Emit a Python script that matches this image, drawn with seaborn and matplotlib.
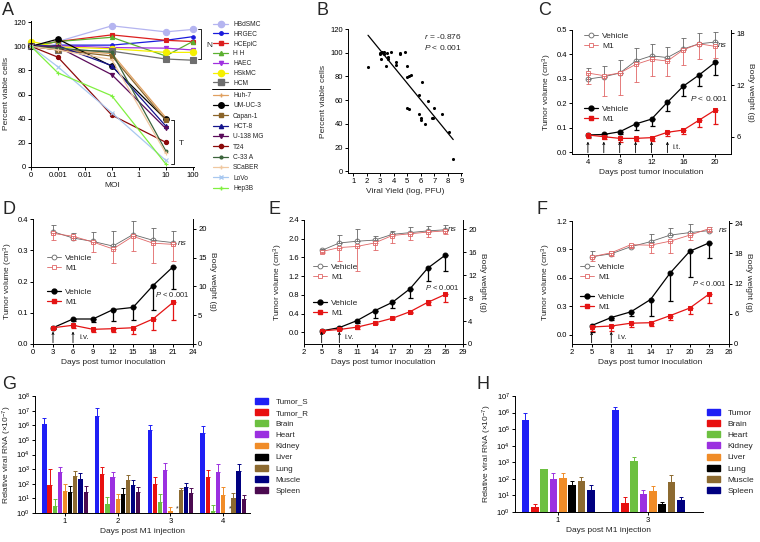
import numpy as np
import pandas as pd
import seaborn as sns
import matplotlib.pyplot as plt
from matplotlib.lines import Line2D
from matplotlib.patches import Patch
from matplotlib.ticker import NullLocator, LogFormatterSciNotation

W, H = 760, 542

# ---------------- A: viability vs MOI ----------------
moi_labels = ["0", "0.001", "0.01", "0.1", "1", "10", "100"]
normal_moi = ["0", "0.001", "0.1", "10", "100"]
tumor_moi = ["0", "0.001", "0.1", "10"]

normal_lines = ["HBdSMC", "HRGEC", "HCEpiC", "H H", "HAEC", "HSkMC", "HCM"]
normal_viab = [
    [100, 104, 117, 112, 114],
    [100, 101, 101, 105, 108],
    [100, 104, 109.5, 105, 104],
    [100, 104, 107.5, 92, 104],
    [100, 100.5, 99, 98.5, 97],
    [104, 99.5, 98, 95, 95],
    [100, 97, 96, 89.5, 88.5],
]
tumor_lines = ["Huh-7", "UM-UC-3", "Capan-1", "HCT-8", "U-138 MG", "T24",
               "C-33 A", "SCaBER", "LoVo", "Hep3B"]
tumor_viab = [
    [100, 97, 94, 41],
    [100, 106, 83.5, 39.5],
    [100, 97, 92, 39],
    [100, 100.5, 84, 34],
    [100, 99.5, 76.5, 32],
    [100, 91, 43, 20.5],
    [100, 98.5, 95, 13.5],
    [100, 97, 89, 11.5],
    [100, 83, 45, 5.5],
    [100, 78, 59, 2.6],
]

# ---------------- B: viability vs viral yield ----------------
b_yield = [2.1, 2.95, 3.0, 3.1, 3.2, 3.3, 3.05, 3.3, 3.5, 3.4, 3.55, 3.6, 3.8,
           4.2, 4.2, 4.5, 4.5, 4.8, 5.0, 5.0, 5.1, 5.3, 4.95, 5.15, 6.1, 5.9,
           5.9, 6.0, 6.0, 6.3, 6.5, 6.95, 6.8, 6.9, 7.6, 8.1, 8.4]
b_viab = [88, 99.6, 98.9, 100.4, 99.6, 100.4, 95, 99, 100, 88.4, 96.6, 94.6,
          100.4, 92.2, 90, 99.6, 98.9, 100.4, 88.4, 79.4, 80, 80.8, 53.7, 52.5,
          75.7, 64.7, 48.6, 44.9, 43, 40, 59, 53.7, 45, 44.6, 48.6, 33, 9.9]

# ---------------- C-F: tumor growth / body weight ----------------
c_days = [4, 6, 8, 10, 12, 14, 16, 18, 20]
c_tv_veh = [0.070, 0.072, 0.083, 0.115, 0.135, 0.204, 0.270, 0.316, 0.367]
c_tv_veh_err = [0.010, 0.008, 0.010, 0.026, 0.027, 0.036, 0.040, 0.046, 0.051]
c_tv_m1 = [0.070, 0.063, 0.056, 0.056, 0.059, 0.081, 0.090, 0.131, 0.172]
c_tv_m1_err = [0.014, 0.010, 0.015, 0.012, 0.012, 0.014, 0.018, 0.027, 0.058]
c_bw_veh = [12.7, 12.97, 13.4, 14.8, 15.4, 15.2, 16.2, 16.8, 17.0]
c_bw_veh_err = [1.3, 1.3, 1.5, 1.55, 1.4, 1.2, 1.3, 1.3, 1.15]
c_bw_m1 = [13.4, 13.1, 13.4, 14.4, 15.0, 14.8, 16.1, 16.8, 16.5]
c_bw_m1_err = [1.3, 2.4, 2.6, 2.05, 1.9, 1.7, 1.75, 1.8, 1.3]
c_dose_days = [4, 6, 8, 10, 12, 14]

d_days = [3, 6, 9, 12, 15, 18, 21]
d_tv_veh = [0.052, 0.080, 0.080, 0.110, 0.117, 0.187, 0.247]
d_tv_veh_err = [0.005, 0.006, 0.008, 0.035, 0.040, 0.077, 0.070]
d_tv_m1 = [0.052, 0.060, 0.047, 0.049, 0.052, 0.080, 0.133]
d_tv_m1_err = [0.004, 0.010, 0.010, 0.012, 0.020, 0.035, 0.057]
d_bw_veh = [19.5, 18.4, 17.8, 17.0, 19.0, 18.0, 17.6]
d_bw_veh_err = [1.2, 0.8, 1.6, 2.6, 2.3, 2.1, 2.1]
d_bw_m1 = [19.2, 18.7, 17.7, 16.5, 18.7, 17.5, 17.3]
d_bw_m1_err = [1.2, 0.6, 1.7, 2.4, 2.6, 3.5, 2.9]
d_dose_days = [3, 6]

e_days = [5, 8, 11, 14, 17, 20, 23, 26]
e_tv_veh = [0.03, 0.10, 0.25, 0.46, 0.64, 0.93, 1.37, 1.65]
e_tv_veh_err = [0.01, 0.02, 0.06, 0.15, 0.12, 0.19, 0.27, 0.33]
e_tv_m1 = [0.03, 0.06, 0.11, 0.20, 0.30, 0.44, 0.64, 0.81]
e_tv_m1_err = [0.01, 0.01, 0.05, 0.02, 0.02, 0.03, 0.05, 0.17]
e_bw_veh = [16.3, 17.6, 17.9, 18.1, 19.1, 19.4, 19.7, 19.9]
e_bw_veh_err = [0.3, 1.35, 2.2, 0.7, 0.6, 0.9, 0.9, 0.9]
e_bw_m1 = [16.1, 16.8, 17.0, 17.6, 18.9, 19.2, 19.5, 19.7]
e_bw_m1_err = [0.3, 2.4, 4.2, 1.3, 1.3, 1.0, 0.9, 0.6]
e_dose_days = [5, 8]

f_days = [5, 8, 11, 14, 17, 20, 23]
f_tv_veh = [0.095, 0.18, 0.24, 0.37, 0.65, 0.88, 0.97]
f_tv_veh_err = [0.07, 0.03, 0.04, 0.17, 0.30, 0.27, 0.16]
f_tv_m1 = [0.08, 0.09, 0.12, 0.125, 0.20, 0.28, 0.43]
f_tv_m1_err = [0.04, 0.05, 0.04, 0.04, 0.05, 0.06, 0.10]
f_bw_veh = [17.3, 17.9, 19.3, 20.3, 21.6, 22.1, 22.5]
f_bw_veh_err = [1.1, 0.6, 0.6, 1.5, 1.5, 1.7, 0.8]
f_bw_m1 = [17.3, 18.1, 19.7, 19.6, 20.4, 21.6, 22.9]
f_bw_m1_err = [0.8, 0.6, 0.6, 1.5, 2.3, 1.0, 0.6]
f_dose_days = [5, 8]

# ---------------- G / H: viral RNA in tissues ----------------
g_days = ["1", "2", "3", "4"]
g_tissues = ["Tumor_S", "Tumor_R", "Brain", "Heart", "Kidney", "Liver",
             "Lung", "Muscle", "Spleen"]
g_rna = [
    [1.3e6, 4.4e6, 4.7e5, 2.8e5],
    [76, 470, 100, 280],
    [2.8, 4.1, 6.0, 1.4],
    [590, 310, 850, 680],
    [30, 9.4, 1.3, 18],
    [27, 20, np.nan, np.nan],
    [350, 185, 35, 10.5],
    [216, 80, 59, 800],
    [27, 28, 23, 9],
]
g_rna_top = [
    [3.2e6, 1.4e7, 1.1e6, 8.7e5],
    [1000, 1350, 295, 890],
    [9.5, 12, 20, 3.7],
    [1350, 680, 2500, 2100],
    [100, 20, 2.6, 60],
    [70, 52, np.nan, np.nan],
    [720, 400, 48, 25],
    [520, 190, 110, 2300],
    [72, 60, 50, 17],
]

h_days = ["1", "3"]
h_tissues = ["Tumor", "Brain", "Heart", "Kidney", "Liver", "Lung", "Muscle", "Spleen"]
h_rna = [
    [3.5e5, 1.5e6],
    [2.0, 3.6],
    [380, 1260],
    [95, 12.6],
    [120, 19],
    [40, 3.0],
    [72, 69],
    [21, 5.2],
]
h_rna_top = [
    [9.5e5, 2.2e6],
    [3.0, 8.0],
    [420, 2200],
    [220, 20],
    [240, 35],
    [70, 4.0],
    [130, 175],
    [42, 8.0],
]

# ---------------- styles ----------------
normal_colors = ["#b4b4f0", "#1a1adc", "#dc1e1e", "#5cb030", "#a030e0", "#f5f000", "#6e6e6e"]
normal_markers = ["o", "o", "s", "^", "v", "o", "s"]
normal_ms = [4.5, 2.5, 3, 3, 3, 4.5, 4]
tumor_colors = ["#e0a060", "#000000", "#8b6428", "#14148c", "#5a0a5a", "#8c0a0a",
                "#3c643c", "#f0c8a0", "#a8c8f0", "#80f040"]
tumor_markers = ["+", "o", "s", "^", "v", "o", "o", "+", "x", "+"]
tumor_ms = [3.5, 4, 3.5, 3, 3, 3, 2, 3, 3, 3.5]

g_colors = ["#1f1ff5", "#e81010", "#6cc040", "#9b30e0", "#f08c28", "#000000",
            "#8c6a30", "#000080", "#4b0a50"]
h_colors = ["#1f1ff5", "#e81010", "#6cc040", "#9b30e0", "#f08c28", "#000000",
            "#8c6a30", "#000080"]

VEH_BW = "#666666"
M1_BW = "#e06666"
M1_TV = "#e41414"

sns.set_style("ticks")
plt.rcParams['font.family'] = ['Liberation Sans', 'DejaVu Sans']
plt.rcParams.update({
    'font.size': 6,
    'axes.labelsize': 6,
    'xtick.labelsize': 5.5,
    'ytick.labelsize': 5.5,
    'axes.linewidth': 0.7,
    'xtick.major.width': 0.7,
    'ytick.major.width': 0.7,
    'xtick.major.size': 2.2,
    'ytick.major.size': 2.2,
    'xtick.major.pad': 1.5,
    'ytick.major.pad': 1.5,
    'axes.labelpad': 2,
    'mathtext.fontset': 'custom',
    'mathtext.rm': 'Liberation Sans',
    'mathtext.it': 'Liberation Sans:italic',
    'mathtext.default': 'regular',
    'axes.edgecolor': 'black',
    'xtick.color': 'black',
    'ytick.color': 'black',
})

fig = plt.figure(figsize=(W / 100, H / 100), dpi=100)


def fx(px):
    return px / W


def fy(py):
    return 1 - py / H


def add_ax(l, t, r, b):
    return fig.add_axes([fx(l), fy(b), (r - l) / W, (b - t) / H])


def letter(px, py, s):
    fig.text(fx(px), fy(py), s, fontsize=13, va='top', ha='left')


# ================= A =================
ax_a = add_ax(31, 21, 194, 167)
for vals, c, m, s in zip(normal_viab, normal_colors, normal_markers, normal_ms):
    sns.lineplot(x=[moi_labels.index(v) for v in normal_moi], y=vals, color=c,
                 marker=m, markersize=s, mec=c, mfc=c, mew=0.8, lw=0.9,
                 ax=ax_a, clip_on=False)
for vals, c, m, s in zip(tumor_viab, tumor_colors, tumor_markers, tumor_ms):
    sns.lineplot(x=[moi_labels.index(v) for v in tumor_moi], y=vals, color=c,
                 marker=m, markersize=s, mec=c, mfc=c, mew=0.8, lw=0.9,
                 ax=ax_a, clip_on=False)
ax_a.set_xlim(0, 6.05)
ax_a.set_ylim(0, 121)
ax_a.set_xticks(range(len(moi_labels)))
ax_a.set_xticklabels(moi_labels)
ax_a.set_yticks(range(0, 121, 20))
ax_a.set_xlabel("MOI")
ax_a.set_ylabel("Percent viable cells")
sns.despine(ax=ax_a)
# brackets
ax_a.plot([6.2, 6.32, 6.32, 6.2], [114.7, 114.7, 89.6, 89.6], color='k', lw=0.6, clip_on=False)
ax_a.text(6.5, 101, "N", fontsize=6, va='center')
ax_a.plot([5.19, 5.31, 5.31, 5.19], [38.6, 38.6, 2.5, 2.5], color='k', lw=0.6, clip_on=False)
ax_a.text(5.5, 19.7, "T", fontsize=6, va='center')

n_handles = [Line2D([], [], color=c, marker=m, markersize=s, mec=c, mfc=c, lw=0.9)
             for c, m, s in zip(normal_colors, normal_markers, normal_ms)]
t_handles = [Line2D([], [], color=c, marker=m, markersize=s, mec=c, mfc=c, lw=0.9)
             for c, m, s in zip(tumor_colors, tumor_markers, tumor_ms)]
leg_kw = dict(loc='upper left', frameon=False, fontsize=4.8, handlelength=2.3,
              handletextpad=0.7, borderpad=0, borderaxespad=0)
fig.legend(n_handles, normal_lines, bbox_to_anchor=(fx(213), fy(21)),
           labelspacing=0.42, **leg_kw)
fig.legend(t_handles, tumor_lines, bbox_to_anchor=(fx(213), fy(92)),
           labelspacing=0.5, **leg_kw)
fig.add_artist(Line2D([fx(212), fx(270)], [fy(88.5), fy(88.5)], color='k', lw=0.7,
                      transform=fig.transFigure))

# ================= B =================
ax_b = add_ax(348, 29, 462, 173)
sns.scatterplot(x=b_yield, y=b_viab, color='black', s=5, linewidth=0, ax=ax_b)
sns.regplot(x=np.array(b_yield), y=np.array(b_viab), scatter=False, ci=None, truncate=True,
            line_kws=dict(color='black', lw=0.9), ax=ax_b)
ax_b.set_xlim(0.62, 9.05)
ax_b.set_ylim(-1.5, 120)
ax_b.set_xticks(range(1, 10))
ax_b.set_yticks(range(0, 121, 20))
ax_b.set_xlabel("Viral Yield (log, PFU)")
ax_b.set_ylabel("Percent viable cells")
ax_b.text(9.0, 114, "$\\mathit{r}$ = -0.876", ha='right', va='center', fontsize=6)
ax_b.text(9.0, 104, "$\\mathit{P}$ < 0.001", ha='right', va='center', fontsize=6)
sns.despine(ax=ax_b)


# ================= C-F =================
def growth(ax, days, tv_veh, tv_veh_err, tv_m1, tv_m1_err,
           bw_veh, bw_veh_err, bw_m1, bw_m1_err):
    zeros = np.zeros(len(days))
    sns.lineplot(x=days, y=tv_veh, color='black', marker='o', markersize=3.5,
                 mec='black', mfc='black', lw=0.9, ax=ax)
    ax.errorbar(days, tv_veh, yerr=[tv_veh_err, zeros], fmt='none', ecolor='black',
                elinewidth=0.9, capsize=1.8, capthick=0.9)
    sns.lineplot(x=days, y=tv_m1, color=M1_TV, marker='s', markersize=3.3,
                 mec=M1_TV, mfc=M1_TV, lw=0.9, ax=ax)
    ax.errorbar(days, tv_m1, yerr=[tv_m1_err, zeros], fmt='none', ecolor=M1_TV,
                elinewidth=0.9, capsize=1.8, capthick=0.9)
    ax2 = ax.twinx()
    sns.lineplot(x=days, y=bw_veh, color=VEH_BW, marker='o', markersize=3.5,
                 mec=VEH_BW, mfc='white', mew=0.6, lw=0.6, ax=ax2)
    ax2.errorbar(days, bw_veh, yerr=[zeros, bw_veh_err], fmt='none', ecolor=VEH_BW,
                 elinewidth=0.6, capsize=1.8, capthick=0.6)
    sns.lineplot(x=days, y=bw_m1, color=M1_BW, marker='s', markersize=3.5,
                 mec=M1_BW, mfc='white', mew=0.6, lw=0.6, ax=ax2)
    ax2.errorbar(days, bw_m1, yerr=[bw_m1_err, zeros], fmt='none', ecolor=M1_BW,
                 elinewidth=0.6, capsize=1.8, capthick=0.6)
    ax.spines[['top', 'right']].set_visible(False)
    ax2.spines[['top', 'left', 'bottom']].set_visible(False)
    ax.set_xlabel("Days post tumor inoculation")
    ax.set_ylabel("Tumor volume (cm$^3$)")
    ax2.set_ylabel("Body weight (g)", rotation=270, labelpad=7)
    return ax2


def doses(ax, dose_days, route, dx):
    for d in dose_days:
        ax.annotate("", xy=(d, 0.1), xytext=(d, 0.01),
                    xycoords=('data', 'axes fraction'),
                    arrowprops=dict(arrowstyle="->,head_length=0.25,head_width=0.12",
                                    lw=0.6, color='black', shrinkA=0, shrinkB=0))
    ax.text(dose_days[-1] + dx, 0.055, route, transform=ax.get_xaxis_transform(),
            fontsize=5.8, va='center', ha='left')


def growth_legends(x_handle, y_rows):
    kw = dict(loc='upper left', frameon=False, fontsize=6, handlelength=1.7,
              handletextpad=0.5, labelspacing=0.25, borderpad=0, borderaxespad=0)
    bw_h = [Line2D([], [], color=VEH_BW, marker='o', mfc='white', mec=VEH_BW, ms=3.5, lw=0.6, mew=0.6),
            Line2D([], [], color=M1_BW, marker='s', mfc='white', mec=M1_BW, ms=3.5, lw=0.6, mew=0.6)]
    tv_h = [Line2D([], [], color='black', marker='o', ms=3.5, lw=0.9),
            Line2D([], [], color=M1_TV, marker='s', ms=3.3, lw=0.9)]
    fig.legend(bw_h, ["Vehicle", "M1"], bbox_to_anchor=(fx(x_handle), fy(y_rows[0])), **kw)
    fig.legend(tv_h, ["Vehicle", "M1"], bbox_to_anchor=(fx(x_handle), fy(y_rows[1])), **kw)


# C
ax_c = add_ax(572, 30, 731, 154)
ax_c2 = growth(ax_c, c_days, c_tv_veh, c_tv_veh_err, c_tv_m1, c_tv_m1_err,
               c_bw_veh, c_bw_veh_err, c_bw_m1, c_bw_m1_err)
ax_c.set_xlim(2, 22)
ax_c.set_xticks(range(4, 21, 4))
ax_c.set_ylim(-0.008, 0.5)
ax_c.set_yticks(np.arange(0, 0.51, 0.1))
ax_c.yaxis.set_major_formatter(lambda v, p: f"{v:.1f}")
ax_c2.set_ylim(4, 18.4)
ax_c2.set_yticks([6, 12, 18])
ax_c.text(16.9, 0.22, "$\\mathit{P}$ < 0.001", fontsize=6, va='center')
ax_c2.text(20.3, 16.6, "ns", fontsize=6, style='italic', va='center')
doses(ax_c, c_dose_days, "i.t.", 0.6)
growth_legends(584, (32, 105))

# D
ax_d = add_ax(33, 219, 193, 344)
ax_d2 = growth(ax_d, d_days, d_tv_veh, d_tv_veh_err, d_tv_m1, d_tv_m1_err,
               d_bw_veh, d_bw_veh_err, d_bw_m1, d_bw_m1_err)
ax_d.set_xlim(0, 24)
ax_d.set_xticks(range(0, 25, 3))
ax_d.set_ylim(0, 0.4)
ax_d.set_yticks(np.arange(0, 0.41, 0.1))
ax_d.yaxis.set_major_formatter(lambda v, p: f"{v:.1f}")
ax_d2.set_ylim(0, 21.7)
ax_d2.set_yticks(range(0, 21, 5))
ax_d.text(18.3, 0.157, "$\\mathit{P}$ < 0.001", fontsize=5.5, va='center')
ax_d.text(21.8, 0.323, "ns", fontsize=6, style='italic', va='center')
doses(ax_d, d_dose_days, "i.v.", 0.9)
growth_legends(47, (254, 288))

# E
ax_e = add_ax(304, 220, 463, 344)
ax_e2 = growth(ax_e, e_days, e_tv_veh, e_tv_veh_err, e_tv_m1, e_tv_m1_err,
               e_bw_veh, e_bw_veh_err, e_bw_m1, e_bw_m1_err)
ax_e.set_xlim(2, 29)
ax_e.set_xticks(range(2, 30, 3))
ax_e.set_ylim(-0.25, 2.4)
ax_e.set_yticks(np.arange(0, 2.41, 0.4))
ax_e.yaxis.set_major_formatter(lambda v, p: f"{v:.1f}")
ax_e2.set_ylim(0, 21.6)
ax_e2.set_yticks(range(0, 21, 4))
ax_e.text(22.5, 0.95, "$\\mathit{P}$ < 0.001", fontsize=5.5, va='center')
ax_e.text(26.5, 2.2, "ns", fontsize=6, style='italic', va='center')
doses(ax_e, e_dose_days, "i.v.", 0.9)
growth_legends(313, (263, 299))

# F
ax_f = add_ax(572, 221, 729, 344)
ax_f2 = growth(ax_f, f_days, f_tv_veh, f_tv_veh_err, f_tv_m1, f_tv_m1_err,
               f_bw_veh, f_bw_veh_err, f_bw_m1, f_bw_m1_err)
ax_f.set_xlim(2, 26)
ax_f.set_xticks(range(2, 27, 3))
ax_f.set_ylim(-0.1, 1.2)
ax_f.set_yticks(np.arange(0, 1.21, 0.3))
ax_f.yaxis.set_major_formatter(lambda v, p: f"{v:.1f}")
ax_f2.set_ylim(0, 24.4)
ax_f2.set_yticks(range(0, 25, 6))
ax_f.text(20.4, 0.54, "$\\mathit{P}$ < 0.001", fontsize=5.5, va='center')
ax_f.text(24.4, 1.1, "ns", fontsize=6, style='italic', va='center')
doses(ax_f, f_dose_days, "i.v.", 0.9)
growth_legends(580, (263, 293))


# ================= G / H =================
def rna_bars(ax, days, tissues, rna, rna_top, colors, width):
    df = pd.DataFrame([(d, t, v) for t, vals in zip(tissues, rna) for d, v in zip(days, vals)],
                      columns=["day", "tissue", "rna"]).dropna()
    sns.barplot(data=df, x="day", y="rna", hue="tissue", order=days, hue_order=tissues,
                palette=colors, width=width, gap=0.18, errorbar=None,
                saturation=1, linewidth=0, legend=False, ax=ax)
    ax.set_yscale('log')
    for cont, vals, tops, c in zip(ax.containers, rna, rna_top, colors):
        v = np.array([a for a in vals if not np.isnan(a)])
        t = np.array([b for b in tops if not np.isnan(b)])
        xs = [p.get_x() + p.get_width() / 2 for p in cont]
        ax.errorbar(xs, v, yerr=[np.zeros(len(v)), t - v], fmt='none', ecolor=c,
                    elinewidth=0.7, capsize=1.3, capthick=0.7)
    ax.yaxis.set_major_formatter(LogFormatterSciNotation())
    ax.yaxis.set_minor_locator(NullLocator())
    ax.set_xlabel("Days post M1 injection")
    ax.set_ylabel("Relative viral RNA (\u00d710$^{-7}$)")
    sns.despine(ax=ax)


ax_g = add_ax(35, 396, 250, 513)
rna_bars(ax_g, g_days, g_tissues, g_rna, g_rna_top, g_colors, 0.88)
ax_g.set_ylim(1, 1e8)
ax_g.set_yticks([10.0 ** k for k in range(9)])
ax_g.set_xlim(-0.57, 3.51)
liver = g_tissues.index("Liver")
for i, vals in enumerate(zip(*g_rna)):
    if np.isnan(vals[liver]):
        ax_g.text(i - 0.44 + (liver + 0.5) * 0.88 / len(g_tissues) + 0.03, 1.05, "*",
                  fontsize=5, ha='center', va='bottom')
fig.legend([Patch(color=c) for c in g_colors], g_tissues, loc='upper left',
           bbox_to_anchor=(fx(255), fy(398)), frameon=False, fontsize=5.8,
           handlelength=1.65, handleheight=0.75, handletextpad=0.9, labelspacing=0.42,
           borderpad=0, borderaxespad=0)

ax_h = add_ax(515, 396, 703, 512)
rna_bars(ax_h, h_days, h_tissues, h_rna, h_rna_top, h_colors, 0.83)
ax_h.set_ylim(1, 1e7)
ax_h.set_yticks([10.0 ** k for k in range(8)])
ax_h.set_xlim(-0.478, 1.61)
fig.legend([Patch(color=c) for c in h_colors], h_tissues, loc='upper left',
           bbox_to_anchor=(fx(707), fy(409)), frameon=False, fontsize=6,
           handlelength=1.6, handleheight=0.75, handletextpad=0.9, labelspacing=0.38,
           borderpad=0, borderaxespad=0)

letter(2, 2, "A")
letter(317, 2, "B")
letter(538, 2, "C")
letter(2, 201, "D")
letter(269, 201, "E")
letter(537, 201, "F")
letter(2, 376, "G")
letter(477, 376, "H")

fig.savefig("out.png", dpi=100)
